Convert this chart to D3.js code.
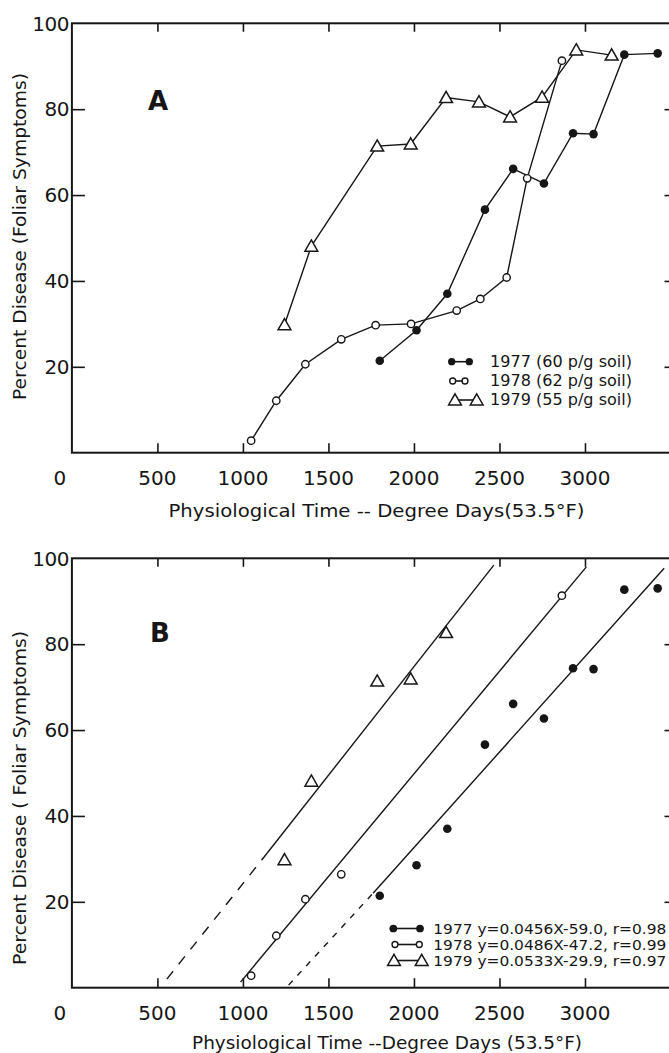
<!DOCTYPE html>
<html><head><meta charset="utf-8">
<script src="https://cdn.jsdelivr.net/npm/d3@7/dist/d3.min.js"></script>
<style>html,body{margin:0;padding:0;background:#fff;} svg{display:block;}</style>
</head><body>
<svg id="chart" width="669" height="1053"></svg>
<script>
// ---------- data ----------
const xTickValues = [0, 500, 1000, 1500, 2000, 2500, 3000];
const xMinorTicks = [500, 1000, 1500, 2000, 2500, 3000];
const yTickValues = [20, 40, 60, 80, 100];
const yInnerTicks = [20, 40, 60, 80];

// Panel A – disease progress curves
const a1977x = [1800, 2015, 2195, 2415, 2580, 2760, 2930, 3050, 3230, 3425];
const a1977y = [21.4, 28.5, 37.0, 56.6, 66.1, 62.7, 74.4, 74.2, 92.7, 93.0];
const a1978x = [1048, 1195, 1365, 1575, 1776, 1983, 2250, 2388, 2542, 2662, 2865];
const a1978y = [2.8, 12.1, 20.6, 26.4, 29.7, 30.0, 33.1, 35.8, 40.8, 63.9, 91.3];
const a1979x = [1243, 1400, 1785, 1981, 2188, 2380, 2562, 2749, 2949, 3156];
const a1979y = [29.8, 48.1, 71.4, 71.9, 82.7, 81.7, 78.2, 82.8, 93.8, 92.6];

// Panel B – points used for regression
const b1977x = [1800, 2015, 2195, 2415, 2580, 2760, 2930, 3050, 3230, 3425];
const b1977y = [21.4, 28.5, 37.0, 56.6, 66.1, 62.7, 74.4, 74.2, 92.7, 93.0];
const b1978x = [1048, 1195, 1365, 1575, 2865];
const b1978y = [2.8, 12.1, 20.6, 26.4, 91.3];
const b1979x = [1243, 1400, 1785, 1981, 2188];
const b1979y = [29.8, 48.1, 71.4, 71.9, 82.7];

// Panel B – fitted lines as drawn: [x0,y0,x1,y1]
const fit1977Solid = [1761, 22.0, 3463, 97.7];
const fit1977Dash  = [1267, 0.6, 1761, 22.0];
const fit1978Solid = [986, 1.3, 3008, 98.0];
const fit1979Solid = [1141, 31.3, 2467, 98.4];
const fit1979Dash  = [555, 2.0, 1141, 31.3];

const legendA = ["1977 (60 p/g soil)", "1978 (62 p/g soil)", "1979 (55 p/g soil)"];
const legendB = ["1977 y=0.0456X-59.0, r=0.98", "1978 y=0.0486X-47.2, r=0.99", "1979 y=0.0533X-29.9, r=0.97"];
const titleX_A = "Physiological Time -- Degree Days(53.5°F)";
const titleX_B = "Physiological Time --Degree Days (53.5°F)";
const titleY_A = "Percent Disease (Foliar Symptoms)";
const titleY_B = "Percent Disease ( Foliar Symptoms)";

// ---------- drawing ----------
const svg = d3.select("#chart");
svg.append("rect").attr("width", 669).attr("height", 1053).attr("fill", "#fff");
const INK = "#161616";
const FONT = "'DejaVu Sans', sans-serif";

const x = d3.scaleLinear().domain([0, 3500]).range([71.9, 670.5]);

function marker(g, kind, cx, cy, s) {
  s = s || 1;
  if (kind === "filled") {
    g.append("circle").attr("cx", cx).attr("cy", cy).attr("r", 4.3 * s).attr("fill", INK);
  } else if (kind === "open") {
    g.append("circle").attr("cx", cx).attr("cy", cy).attr("r", 3.7 * s)
      .attr("fill", "#fff").attr("stroke", INK).attr("stroke-width", 1.4);
  } else {
    const w = 6.4 * s, h1 = 6.2 * s, h2 = 5.0 * s;
    g.append("path").attr("d", `M${cx},${cy - h1}L${cx + w},${cy + h2}L${cx - w},${cy + h2}Z`)
      .attr("fill", "#fff").attr("stroke", INK).attr("stroke-width", 1.5).attr("stroke-linejoin", "miter");
  }
}

function drawFrame(g, y, cfg) {
  const [x0, x1] = x.range();
  const [yb, yt] = y.range();
  // ticks via d3 axes
  g.append("g").attr("transform", `translate(0,${yb})`)
    .call(d3.axisBottom(x).tickValues(xMinorTicks).tickSize(-9.5).tickFormat(""))
    .call(s => s.select(".domain").remove());
  g.append("g").attr("transform", `translate(0,${yt})`)
    .call(d3.axisTop(x).tickValues(xMinorTicks).tickSize(-8.5).tickFormat(""))
    .call(s => s.select(".domain").remove());
  g.append("g").attr("transform", `translate(${x0},0)`)
    .call(d3.axisLeft(y).tickValues(yInnerTicks).tickSize(-13).tickFormat(""))
    .call(s => s.select(".domain").remove());
  g.append("g").attr("transform", `translate(${x1},0)`)
    .call(d3.axisRight(y).tickValues(yInnerTicks).tickSize(-6).tickFormat(""))
    .call(s => s.select(".domain").remove());
  g.selectAll(".tick line").attr("stroke", INK).attr("stroke-width", 1.6);
  // frame
  g.append("rect").attr("x", x0).attr("y", yt).attr("width", x1 - x0).attr("height", yb - yt)
    .attr("fill", "none").attr("stroke", INK).attr("stroke-width", 2);
  // x tick labels
  g.selectAll(".xl").data(xTickValues).enter().append("text")
    .attr("x", d => d === 0 ? x(d) - 12 : x(d)).attr("y", yb + 32)
    .attr("text-anchor", "middle").attr("font-family", FONT).attr("font-size", 20)
    .attr("fill", INK).text(d => d);
  // y tick labels
  g.selectAll(".yl").data(yTickValues).enter().append("text")
    .attr("x", 69).attr("y", d => y(d)).attr("dy", "0.36em")
    .attr("text-anchor", "end").attr("font-family", FONT).attr("font-size", 20)
    .attr("letter-spacing", -0.5)
    .attr("fill", INK).text(d => d);
  // titles
  g.append("text").attr("x", cfg.xtx).attr("y", cfg.xty).attr("text-anchor", "middle")
    .attr("font-family", FONT).attr("font-size", 17).attr("fill", INK)
    .attr("textLength", cfg.xtw).attr("lengthAdjust", "spacingAndGlyphs").text(cfg.xt);
  g.append("text").attr("transform", `translate(26,${cfg.ytc}) rotate(-90)`).attr("text-anchor", "middle")
    .attr("font-family", FONT).attr("font-size", 18).attr("fill", INK)
    .attr("textLength", cfg.ytw).attr("lengthAdjust", "spacingAndGlyphs").text(cfg.yt);
  // panel letter
  g.append("text").attr("x", cfg.lx).attr("y", cfg.ly).attr("text-anchor", "middle")
    .attr("font-family", FONT).attr("font-weight", "bold").attr("font-size", 26)
    .attr("fill", INK).text(cfg.letter);
}

// ===== Panel A =====
const yA = d3.scaleLinear().domain([0, 100]).range([452.7, 23.3]);
const gA = svg.append("g");
drawFrame(gA, yA, {xt: titleX_A, xtx: 376.5, xty: 517, xtw: 416,
  yt: titleY_A, ytc: 236.5, ytw: 327, letter: "A", lx: 158, ly: 110});

const lineA = d3.line().x(d => x(d[0])).y(d => yA(d[1]));
const seriesA = [
  {xs: a1977x, ys: a1977y, kind: "filled"},
  {xs: a1978x, ys: a1978y, kind: "open"},
  {xs: a1979x, ys: a1979y, kind: "tri"}
];
seriesA.forEach(s => {
  const pts = s.xs.map((v, i) => [v, s.ys[i]]);
  gA.append("path").attr("d", lineA(pts)).attr("fill", "none").attr("stroke", INK).attr("stroke-width", 1.4);
});
seriesA.forEach(s => {
  s.xs.forEach((v, i) => marker(gA, s.kind, x(v), yA(s.ys[i])));
});

// legend A
const legA = gA.append("g");
const rowsA = [361.7, 381, 400];
legA.append("line").attr("x1", 451.7).attr("x2", 469.3).attr("y1", rowsA[0]).attr("y2", rowsA[0]).attr("stroke", INK).attr("stroke-width", 1.6);
marker(legA, "filled", 451.7, rowsA[0], 0.85); marker(legA, "filled", 469.3, rowsA[0], 0.85);
legA.append("line").attr("x1", 452.7).attr("x2", 465).attr("y1", rowsA[1]).attr("y2", rowsA[1]).attr("stroke", INK).attr("stroke-width", 1.6);
marker(legA, "open", 452.7, rowsA[1], 0.8); marker(legA, "open", 465, rowsA[1], 0.8);
legA.append("line").attr("x1", 455).attr("x2", 476.7).attr("y1", rowsA[2]).attr("y2", rowsA[2]).attr("stroke", INK).attr("stroke-width", 1.6);
marker(legA, "tri", 455, rowsA[2], 1.0); marker(legA, "tri", 476.7, rowsA[2], 1.0);
legendA.forEach((t, i) => {
  legA.append("text").attr("x", 490).attr("y", rowsA[i] + 5.3)
    .attr("font-family", FONT).attr("font-size", 15).attr("fill", INK)
    .attr("textLength", 142).attr("lengthAdjust", "spacingAndGlyphs").text(t);
});

// ===== Panel B =====
const yB = d3.scaleLinear().domain([0, 100]).range([987.7, 558.3]);
const gB = svg.append("g");
drawFrame(gB, yB, {xt: titleX_B, xtx: 387, xty: 1049, xtw: 390,
  yt: titleY_B, ytc: 798, ytw: 334, letter: "B", lx: 160, ly: 642});

function seg(g, f, dash) {
  g.append("line").attr("x1", x(f[0])).attr("y1", yB(f[1])).attr("x2", x(f[2])).attr("y2", yB(f[3]))
    .attr("stroke", INK).attr("stroke-width", 1.4).attr("stroke-dasharray", dash || null);
}
seg(gB, fit1977Solid); seg(gB, fit1977Dash, "6,7");
seg(gB, fit1978Solid);
seg(gB, fit1979Solid); seg(gB, fit1979Dash, "10,9");

[{xs: b1977x, ys: b1977y, kind: "filled"}, {xs: b1978x, ys: b1978y, kind: "open"}, {xs: b1979x, ys: b1979y, kind: "tri"}]
  .forEach(s => s.xs.forEach((v, i) => marker(gB, s.kind, x(v), yB(s.ys[i]))));

// legend B
const legB = gB.append("g");
const rowsB = [928.5, 944.5, 960.5];
legB.append("line").attr("x1", 393.3).attr("x2", 420).attr("y1", rowsB[0]).attr("y2", rowsB[0]).attr("stroke", INK).attr("stroke-width", 1.6);
marker(legB, "filled", 393.3, rowsB[0], 0.9); marker(legB, "filled", 420, rowsB[0], 0.9);
legB.append("line").attr("x1", 395).attr("x2", 419.3).attr("y1", rowsB[1]).attr("y2", rowsB[1]).attr("stroke", INK).attr("stroke-width", 1.6);
marker(legB, "open", 395, rowsB[1], 0.8); marker(legB, "open", 419.3, rowsB[1], 0.8);
legB.append("line").attr("x1", 394).attr("x2", 421.7).attr("y1", rowsB[2]).attr("y2", rowsB[2]).attr("stroke", INK).attr("stroke-width", 1.6);
marker(legB, "tri", 394, rowsB[2], 1.0); marker(legB, "tri", 421.7, rowsB[2], 1.0);
legendB.forEach((t, i) => {
  legB.append("text").attr("x", 433.3).attr("y", rowsB[i] + 5)
    .attr("font-family", FONT).attr("font-size", 13.5).attr("fill", INK)
    .attr("textLength", 233).attr("lengthAdjust", "spacingAndGlyphs").text(t);
});
</script>
</body></html>
